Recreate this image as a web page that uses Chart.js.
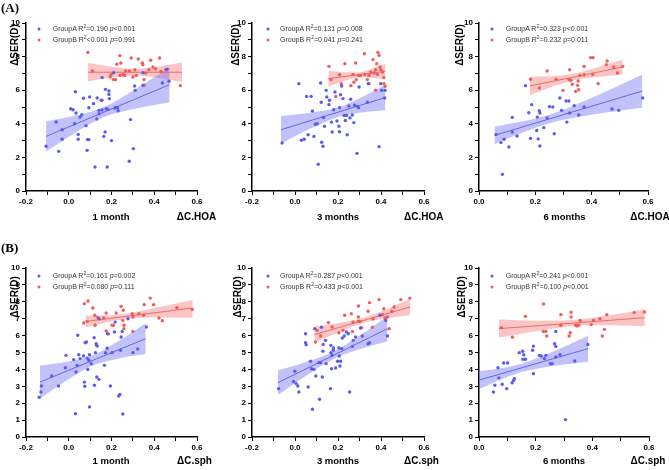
<!DOCTYPE html>
<html><head><meta charset="utf-8">
<script src="https://cdn.jsdelivr.net/npm/chart.js@4.4.0/dist/chart.umd.min.js"></script>
<style>
html,body{margin:0;padding:0;background:#fff;}
body{width:669px;height:470px;position:relative;overflow:hidden;font-family:"Liberation Sans",Arial,sans-serif;}
canvas{position:absolute;}
.lbl{position:absolute;white-space:nowrap;color:#000;font-weight:bold;}
.ytitle{font-size:10px;transform:translate(-50%,-50%) rotate(-90deg);}
.xtitle{font-size:9.5px;transform:translate(-50%,-50%);}
.xunit{font-size:10px;transform:translate(-50%,-50%);}
.panel{font-family:"Liberation Serif","Times New Roman",serif;font-size:13px;}
.leg{position:absolute;font-size:7px;color:#333;white-space:nowrap;transform:translateY(-50%);line-height:8px;}
.leg sup{font-size:5px;line-height:0;vertical-align:3px;}
.dot{position:absolute;width:3px;height:3px;border-radius:50%;transform:translate(-50%,-50%);}
</style></head><body>
<script>
// ---------------- DATA ----------------
const panelLetters = ['(A)', '(B)'];
const periodLabels = ['1 month', '3 months', '6 months'];
const unitLabels = ['\u0394C.HOA', '\u0394C.sph'];
const yTitle = '\u0394SER(D)';
const groupNames = ['GroupA', 'GroupB'];

// legend statistics [R2 text, p text]
const A1_stats = [['=0.190', '<0.001'], ['<0.001', '=0.991']];
const A2_stats = [['=0.131', '=0.008'], ['=0.041', '=0.241']];
const A3_stats = [['=0.323', '<0.001'], ['=0.232', '=0.011']];
const B1_stats = [['=0.161', '=0.002'], ['=0.080', '=0.111']];
const B2_stats = [['=0.287', '<0.001'], ['=0.433', '<0.001']];
const B3_stats = [['=0.241', '<0.001'], ['=0.100', '<0.001']];

// ---- A1 : 1 month, dC.HOA ----
const A1_groupA = [[-0.106,2.66],[-0.059,4.11],[-0.047,2.36],[-0.031,3.65],[-0.031,3.08],[0.009,4.90],[0.02,4.84],[0.031,5.91],[0.027,4.0],[0.034,4.64],[0.044,3.37],[0.044,3.08],[0.053,4.40],[0.061,4.54],[0.069,5.52],[0.081,3.89],[0.088,3.06],[0.094,3.06],[0.086,2.42],[0.094,4.96],[0.098,5.6],[0.116,5.2],[0.123,1.43],[0.131,4.29],[0.133,5.54],[0.141,4.8],[0.142,4.6],[0.152,5.4],[0.156,4.82],[0.164,3.25],[0.17,3.51],[0.172,6.05],[0.175,4.9],[0.18,1.43],[0.183,4.86],[0.188,5.75],[0.188,5.95],[0.19,5.5],[0.20,3.0],[0.216,4.94],[0.222,4.98],[0.228,4.96],[0.231,4.78],[0.156,6.75],[0.21,7.04],[0.308,6.25],[0.311,5.99],[0.289,4.25],[0.302,2.52],[0.283,1.77],[0.347,7.04],[0.347,6.29],[0.438,6.43],[0.469,6.53],[0.46,7.25]];
const A1_groupB = [[0.089,8.25],[0.111,7.14],[0.156,5.4],[0.194,6.79],[0.198,6.92],[0.209,6.63],[0.219,6.63],[0.225,7.55],[0.239,8.06],[0.244,7.62],[0.253,6.92],[0.256,6.92],[0.266,7.14],[0.284,7.14],[0.292,7.92],[0.3,6.79],[0.309,7.22],[0.316,6.88],[0.325,7.86],[0.344,7.62],[0.347,7.52],[0.352,6.63],[0.36,7.02],[0.375,7.22],[0.383,7.78],[0.394,7.38],[0.406,7.28],[0.425,7.92],[0.431,7.12],[0.453,7.22],[0.522,6.27],[0.262,6.88],[0.24,6.88],[0.352,6.3]];
const A1_fitA = [[-0.106,3.25],[0.472,6.33]];
const A1_fitB = [[0.09,7.07],[0.53,7.07]];
const A1_bandA = [[-0.106,2.35,4.15],[0.027,3.44,4.48],[0.16,4.37,4.97],[0.316,4.91,6.09],[0.472,5.28,7.38]];
const A1_bandB = [[0.09,6.52,7.62],[0.2,6.75,7.40],[0.31,6.87,7.27],[0.42,6.73,7.41],[0.53,6.49,7.65]];

// ---- A2 : 3 months, dC.HOA ----
const A2_groupA = [[-0.06,2.86],[0.018,6.39],[0.03,3.02],[0.043,3.08],[0.054,5.63],[0.061,3.35],[0.075,5.63],[0.081,4.76],[0.088,3.25],[0.095,3.97],[0.103,4.0],[0.108,1.59],[0.119,6.43],[0.122,5.28],[0.124,2.9],[0.13,2.66],[0.133,4.37],[0.137,3.85],[0.145,5.99],[0.148,5.6],[0.158,5.14],[0.161,5.4],[0.173,3.51],[0.17,4.1],[0.18,4.84],[0.186,5.89],[0.195,4.17],[0.204,3.85],[0.207,3.53],[0.207,4.96],[0.212,5.73],[0.217,6.25],[0.223,5.5],[0.229,4.5],[0.234,4.2],[0.24,4.5],[0.243,3.35],[0.251,5.06],[0.256,4.35],[0.259,5.46],[0.267,4.52],[0.274,4.07],[0.277,5.1],[0.288,2.24],[0.291,5.04],[0.295,4.96],[0.298,6.19],[0.337,5.28],[0.341,6.39],[0.391,2.64],[0.399,6.39],[0.403,5.99],[0.419,5.99],[0.417,5.54]];
const A2_groupB = [[0.158,7.42],[0.167,6.63],[0.19,5.63],[0.207,6.92],[0.215,6.39],[0.232,7.58],[0.26,6.27],[0.27,6.94],[0.274,6.47],[0.282,7.62],[0.285,6.63],[0.295,6.88],[0.3,6.88],[0.305,6.88],[0.323,8.17],[0.324,6.94],[0.337,6.63],[0.344,6.88],[0.344,6.39],[0.352,7.08],[0.363,7.82],[0.368,7.04],[0.375,7.22],[0.38,7.58],[0.383,6.94],[0.386,8.25],[0.391,8.07],[0.395,7.38],[0.4,7.22],[0.407,7.08],[0.413,6.75],[0.414,6.39],[0.419,6.23],[0.375,6.0]];
const A2_fitA = [[-0.065,3.65],[0.42,5.56]];
const A2_fitB = [[0.155,6.69],[0.42,7.12]];
const A2_bandA = [[-0.065,2.83,4.47],[0.07,3.70,4.66],[0.2,4.41,4.97],[0.31,4.68,5.58],[0.42,4.81,6.31]];
const A2_bandB = [[0.155,6.21,7.17],[0.225,6.53,7.07],[0.29,6.76,7.06],[0.355,6.74,7.28],[0.42,6.65,7.59]];

// ---- A3 : 6 months, dC.HOA ----
const A3_groupA = [[0.061,3.37],[0.078,2.88],[0.083,0.99],[0.089,3.08],[0.106,2.62],[0.118,4.38],[0.118,3.51],[0.135,3.27],[0.165,6.27],[0.177,4.66],[0.183,3.13],[0.187,5.14],[0.207,4.4],[0.21,3.1],[0.214,4.78],[0.216,4.64],[0.216,2.68],[0.23,3.77],[0.242,4.35],[0.25,5.02],[0.262,5.0],[0.267,3.41],[0.287,5.54],[0.293,4.8],[0.309,5.36],[0.312,4.1],[0.319,5.36],[0.322,4.64],[0.338,5.08],[0.354,4.52],[0.373,5.0],[0.472,4.88],[0.496,4.8],[0.581,5.54],[0.205,3.6]];
const A3_groupB = [[0.183,6.65],[0.214,6.13],[0.242,7.14],[0.274,6.65],[0.298,5.99],[0.319,6.63],[0.322,7.22],[0.326,6.59],[0.331,6.35],[0.343,5.93],[0.35,6.29],[0.352,6.55],[0.354,6.03],[0.358,6.88],[0.373,7.42],[0.373,6.92],[0.396,7.94],[0.405,7.94],[0.404,6.94],[0.423,6.39],[0.455,7.74],[0.452,7.52],[0.478,7.38],[0.492,7.02],[0.51,7.42]];
const A3_fitA = [[0.055,3.31],[0.58,5.95]];
const A3_fitB = [[0.18,6.25],[0.51,7.38]];
const A3_bandA = [[0.055,2.79,3.83],[0.15,3.45,4.13],[0.25,4.04,4.54],[0.415,4.58,5.66],[0.58,4.96,6.94]];
const A3_bandB = [[0.18,5.70,6.80],[0.255,6.18,6.83],[0.33,6.56,6.96],[0.42,6.79,7.35],[0.51,6.94,7.82]];

// ---- B1 : 1 month, dC.sph ----
const B1_groupA = [[-0.138,2.35],[-0.13,2.66],[-0.128,3.02],[-0.08,3.61],[-0.048,3.02],[-0.013,4.83],[-0.016,4.1],[0.023,4.58],[0.031,1.38],[0.034,3.85],[0.039,4.24],[0.042,6.02],[0.047,4.87],[0.053,4.64],[0.073,3.25],[0.069,4.79],[0.077,5.58],[0.083,5.62],[0.086,4.67],[0.089,4.0],[0.094,4.54],[0.097,1.78],[0.097,4.87],[0.105,4.34],[0.119,5.88],[0.125,4.99],[0.128,5.52],[0.133,5.38],[0.12,3.06],[0.131,3.55],[0.141,3.41],[0.167,4.24],[0.172,4.99],[0.181,6.11],[0.195,3.02],[0.203,4.99],[0.214,6.21],[0.217,6.8],[0.234,2.43],[0.239,2.52],[0.242,5.13],[0.245,5.92],[0.253,1.36],[0.25,6.25],[0.141,7.0],[0.277,7.0],[0.3,4.99],[0.323,5.21],[0.363,6.51],[0.075,3.0],[0.18,5.25]];
const B1_groupB = [[0.07,6.75],[0.073,7.89],[0.09,8.05],[0.086,6.84],[0.113,7.63],[0.122,7.2],[0.123,6.61],[0.136,7.08],[0.13,5.43],[0.163,7.04],[0.175,6.27],[0.175,7.34],[0.203,6.61],[0.209,6.61],[0.222,7.34],[0.245,7.73],[0.255,7.5],[0.258,6.41],[0.259,6.61],[0.253,6.9],[0.297,7.3],[0.3,7.1],[0.328,7.3],[0.35,7.2],[0.353,7.83],[0.381,8.22],[0.397,7.83],[0.422,7.04],[0.438,6.88],[0.506,7.65],[0.578,7.55],[0.3,6.25],[0.185,6.1]];
const B1_fitA = [[-0.135,3.25],[0.36,5.82]];
const B1_fitB = [[0.08,6.84],[0.58,7.63]];
const B1_bandA = [[-0.135,2.28,4.22],[-0.01,3.35,4.45],[0.11,4.22,4.82],[0.235,4.65,5.69],[0.36,4.91,6.73]];
const B1_bandB = [[0.08,6.49,7.19],[0.165,6.75,7.19],[0.25,6.96,7.26],[0.415,7.07,7.67],[0.58,7.05,8.10]];

// ---- B2 : 3 months, dC.sph ----
const B2_groupA = [[-0.076,2.86],[-0.001,3.89],[-0.007,3.29],[0.005,3.16],[0.013,3.02],[0.018,2.66],[0.049,6.11],[0.049,5.58],[0.052,5.46],[0.061,2.96],[0.072,4.48],[0.077,4.04],[0.081,1.64],[0.088,4.0],[0.092,6.41],[0.097,3.61],[0.111,4.4],[0.114,2.23],[0.119,4.4],[0.123,6.49],[0.127,3.55],[0.131,5.48],[0.13,5.07],[0.142,5.72],[0.145,4.34],[0.165,2.86],[0.167,5.42],[0.167,4.99],[0.17,4.04],[0.173,4.83],[0.178,5.13],[0.179,5.27],[0.189,4.08],[0.198,4.48],[0.204,5.27],[0.206,4.79],[0.209,4.2],[0.212,4.48],[0.217,5.23],[0.22,5.86],[0.229,5.98],[0.239,6.21],[0.248,6.11],[0.254,2.66],[0.267,5.36],[0.271,5.72],[0.282,5.92],[0.305,6.45],[0.313,5.98],[0.34,5.52],[0.347,5.58],[0.422,6.9],[0.43,5.98],[0.395,7.2]];
const B2_groupB = [[0.095,5.62],[0.103,6.31],[0.119,5.98],[0.155,6.77],[0.173,6.51],[0.204,6.17],[0.223,6.31],[0.231,7.2],[0.262,7.3],[0.27,6.8],[0.295,6.84],[0.302,6.84],[0.295,7.75],[0.295,7.1],[0.31,6.47],[0.34,7.44],[0.347,7.95],[0.363,7.0],[0.391,8.13],[0.407,7.24],[0.413,7.59],[0.419,7.04],[0.438,6.41],[0.45,7.44],[0.461,7.69],[0.492,8.13],[0.534,8.22],[0.267,6.25],[0.43,7.1],[0.36,6.5]];
const B2_fitA = [[-0.08,3.21],[0.43,6.41]];
const B2_fitB = [[0.09,6.06],[0.535,7.69]];
const B2_bandA = [[-0.08,2.48,3.94],[0.048,3.60,4.42],[0.175,4.59,5.03],[0.303,5.20,6.02],[0.43,5.67,7.15]];
const B2_bandB = [[0.09,5.59,6.53],[0.2,6.19,6.73],[0.31,6.72,7.02],[0.423,7.01,7.55],[0.535,7.21,8.17]];

// ---- B3 : 6 months, dC.sph ----
const B3_groupA = [[-0.122,2.62],[-0.009,3.61],[0.051,2.66],[0.056,3.06],[0.067,4.1],[0.082,3.12],[0.087,4.38],[0.098,2.86],[0.101,4.38],[0.117,3.21],[0.122,3.35],[0.125,3.45],[0.142,4.99],[0.154,5.07],[0.158,4.87],[0.164,4.6],[0.192,5.38],[0.192,3.75],[0.189,5.13],[0.213,4.83],[0.22,4.79],[0.231,4.64],[0.236,4.83],[0.252,4.34],[0.258,4.34],[0.267,5.52],[0.271,6.25],[0.271,5.36],[0.271,4.73],[0.286,4.87],[0.305,1.03],[0.338,4.5],[0.384,5.48],[0.155,4.6],[0.07,3.5]];
const B3_groupB = [[0.079,6.47],[0.118,5.9],[0.164,7.14],[0.227,6.25],[0.228,7.87],[0.236,6.25],[0.239,5.98],[0.289,7.24],[0.289,6.61],[0.318,5.98],[0.322,6.17],[0.325,7.38],[0.325,7.1],[0.341,6.61],[0.346,6.57],[0.352,6.61],[0.357,6.9],[0.396,6.65],[0.404,6.9],[0.427,7.0],[0.435,5.98],[0.443,6.37],[0.451,7.24],[0.548,7.36],[0.584,7.4]];
const B3_fitA = [[-0.125,2.76],[0.385,5.23]];
const B3_fitB = [[0.07,6.41],[0.585,7.06]];
const B3_bandA = [[-0.125,1.87,3.65],[0.013,2.93,3.92],[0.15,3.84,4.34],[0.268,4.22,5.10],[0.385,4.46,6.0]];
const B3_bandB = [[0.07,5.87,6.95],[0.2,6.26,6.88],[0.33,6.56,6.92],[0.458,6.61,7.20],[0.585,6.56,7.56]];

const xTickRange = [[-0.2, 0.6], [-0.2, 0.6], [0.0, 0.6]];
const yTickRange = [0, 10];

// ---------------- STYLE / LAYOUT ----------------
const COL_A = '#5b5bf0', COL_B = '#f05b5b';
const LINE_A = '#6464ec', LINE_B = '#ec6a6a';
const BAND_A = 'rgba(110,110,245,0.42)', BAND_B = 'rgba(245,110,110,0.40)';
const FONT = '"Liberation Sans", Arial, sans-serif';

const panels = [
  {row:0,col:0,L:26,R:197,T:23,B:191, ga:A1_groupA, gb:A1_groupB, fa:A1_fitA, fb:A1_fitB, ba:A1_bandA, bb:A1_bandB, st:A1_stats, pItal:true,
   yt:[13.5,45], xt:[111,216], xu:[196.5,216], dotX:39.3, txtX:52.7, rows:[29,40]},
  {row:0,col:1,L:252,R:424,T:23,B:191, ga:A2_groupA, gb:A2_groupB, fa:A2_fitA, fb:A2_fitB, ba:A2_bandA, bb:A2_bandB, st:A2_stats, pItal:true,
   yt:[235,45], xt:[338,216], xu:[423.7,216], dotX:267.7, txtX:280, rows:[29,40]},
  {row:0,col:2,L:479,R:648,T:23,B:191, ga:A3_groupA, gb:A3_groupB, fa:A3_fitA, fb:A3_fitB, ba:A3_bandA, bb:A3_bandB, st:A3_stats, pItal:false,
   yt:[459,45], xt:[564.5,216], xu:[650,216], dotX:492.3, txtX:505.7, rows:[29,40]},
  {row:1,col:0,L:26,R:197,T:268,B:437, ga:B1_groupA, gb:B1_groupB, fa:B1_fitA, fb:B1_fitB, ba:B1_bandA, bb:B1_bandB, st:B1_stats, pItal:true,
   yt:[13.5,297], xt:[111,460], xu:[194.5,460], dotX:39.3, txtX:52.7, rows:[275.5,286.5]},
  {row:1,col:1,L:252,R:424,T:268,B:437, ga:B2_groupA, gb:B2_groupB, fa:B2_fitA, fb:B2_fitB, ba:B2_bandA, bb:B2_bandB, st:B2_stats, pItal:true,
   yt:[237,297], xt:[338,460], xu:[421.5,460], dotX:267.7, txtX:280, rows:[275.5,286.5]},
  {row:1,col:2,L:479,R:649,T:268,B:437, ga:B3_groupA, gb:B3_groupB, fa:B3_fitA, fb:B3_fitB, ba:B3_bandA, bb:B3_bandB, st:B3_stats, pItal:true,
   yt:[461,297], xt:[564,460], xu:[648,460], dotX:492.3, txtX:505.7, rows:[275.5,286.5]}
];

function addLabel(cls, text, x, y) {
  const d = document.createElement('div');
  d.className = 'lbl ' + cls;
  d.textContent = text;
  d.style.left = x + 'px'; d.style.top = y + 'px';
  document.body.appendChild(d);
}
function pts(arr) { return arr.map(p => ({x: p[0], y: p[1]})); }

function makePanel(p) {
  const pad = {l: 28, t: 10, r: 12, b: 24};
  const W = p.R - p.L + pad.l + pad.r, H = p.B - p.T + pad.t + pad.b;
  const cv = document.createElement('canvas');
  cv.width = W; cv.height = H;
  cv.style.left = (p.L - pad.l) + 'px'; cv.style.top = (p.T - pad.t) + 'px';
  cv.style.width = W + 'px'; cv.style.height = H + 'px';
  document.body.appendChild(cv);
  const xr = xTickRange[p.col];
  const evenOnly = p.row === 0;
  const tickFont = {family: FONT, size: 8, weight: 'bold'};
  const band = (b, idx, col) => ({type: 'line', data: b.map(q => ({x: q[0], y: q[idx]})),
      borderColor: 'rgba(0,0,0,0)', borderWidth: 0, pointRadius: 0, backgroundColor: col,
      fill: idx === 2 ? '+1' : false, cubicInterpolationMode: 'monotone', order: 5});
  new Chart(cv, {
    type: 'scatter',
    data: {datasets: [
      band(p.ba, 2, BAND_A), band(p.ba, 1, BAND_A),
      band(p.bb, 2, BAND_B), band(p.bb, 1, BAND_B),
      {type: 'line', data: pts(p.fa), borderColor: LINE_A, borderWidth: 1, pointRadius: 0, fill: false, order: 3},
      {type: 'line', data: pts(p.fb), borderColor: LINE_B, borderWidth: 1, pointRadius: 0, fill: false, order: 3},
      {label: groupNames[1], data: pts(p.gb), backgroundColor: COL_B, borderWidth: 0, pointRadius: 1.7, order: 2},
      {label: groupNames[0], data: pts(p.ga), backgroundColor: COL_A, borderWidth: 0, pointRadius: 1.7, order: 1}
    ]},
    options: {
      responsive: false, animation: false, events: [],
      layout: {padding: {left: 0, top: pad.t, right: pad.r, bottom: 0}},
      plugins: {legend: {display: false}, tooltip: {enabled: false}},
      scales: {
        x: {type: 'linear', min: xr[0], max: xr[1],
          afterFit(s) { s.height = pad.b; },
          ticks: {stepSize: 0.1, autoSkip: false, maxRotation: 0, padding: 2, color: '#000', font: tickFont,
            callback: v => { const k = Math.round(v * 10); return k % 2 === 0 ? (k / 10).toFixed(1) : ''; }},
          grid: {drawOnChartArea: false, drawTicks: true, tickLength: 4, color: '#000', tickColor: '#000', tickWidth: 1},
          border: {display: true, color: '#000', width: 1.5}},
        y: {type: 'linear', min: yTickRange[0], max: yTickRange[1],
          afterFit(s) { s.width = pad.l; },
          ticks: {stepSize: 1, autoSkip: false, padding: 2, color: '#000', font: tickFont,
            callback: v => (evenOnly && v % 2 !== 0) ? '' : String(v)},
          grid: {drawOnChartArea: false, drawTicks: true, tickLength: 4, color: '#000', tickColor: '#000', tickWidth: 1},
          border: {display: true, color: '#000', width: 1.5}}
      }
    }
  });
  addLabel('ytitle', yTitle, p.yt[0], p.yt[1]);
  addLabel('xtitle', periodLabels[p.col], p.xt[0], p.xt[1]);
  addLabel('xunit', unitLabels[p.row], p.xu[0], p.xu[1]);
  // legend
  [0, 1].forEach(g => {
    const dot = document.createElement('div');
    dot.className = 'dot';
    dot.style.background = g === 0 ? COL_A : COL_B;
    dot.style.left = p.dotX + 'px'; dot.style.top = p.rows[g] + 'px';
    document.body.appendChild(dot);
    const t = document.createElement('div');
    t.className = 'leg';
    t.style.left = p.txtX + 'px'; t.style.top = p.rows[g] + 'px';
    const pTag = p.pItal ? '<i>p</i>' : 'p';
    t.innerHTML = groupNames[g] + ' R<sup>2</sup>' + p.st[g][0].replace('<', '&lt;') + ' ' + pTag + p.st[g][1].replace('<', '&lt;');
    document.body.appendChild(t);
  });
}

panels.forEach(makePanel);
addLabel('panel', panelLetters[0], 1, 0);
addLabel('panel', panelLetters[1], 1, 240);
</script>
</body></html>
